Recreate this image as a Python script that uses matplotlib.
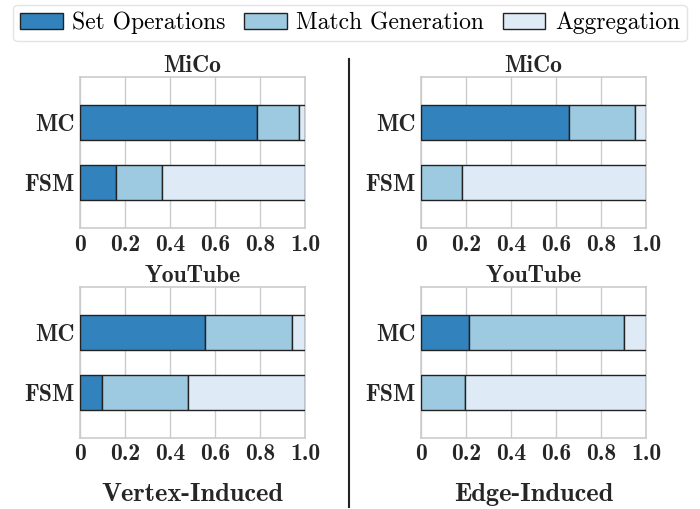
import numpy as np
import matplotlib
matplotlib.use("Agg")
import matplotlib.pyplot as plt
from matplotlib.lines import Line2D
from matplotlib.patches import Patch

# fractions of runtime, rows are [FSM, MC] (FSM drawn at the bottom)
workloads = ["FSM", "MC"]
components = ["Set Operations", "Match Generation", "Aggregation"]
colors = ["#3182bd", "#9ecae1", "#deebf7"]

vertex_mico_set = [0.16, 0.788]
vertex_mico_match = [0.206, 0.185]
vertex_youtube_set = [0.096, 0.556]
vertex_youtube_match = [0.383, 0.388]

edge_mico_set = [0.0, 0.659]
edge_mico_match = [0.181, 0.291]
edge_youtube_set = [0.0, 0.212]
edge_youtube_match = [0.194, 0.692]

panels = [
    ("MiCo", vertex_mico_set, vertex_mico_match, [0.1143, 0.5515, 0.3214, 0.2978]),
    ("YouTube", vertex_youtube_set, vertex_youtube_match, [0.1143, 0.1401, 0.3214, 0.2955]),
    ("MiCo", edge_mico_set, edge_mico_match, [0.6014, 0.5515, 0.3214, 0.2978]),
    ("YouTube", edge_youtube_set, edge_youtube_match, [0.6014, 0.1401, 0.3214, 0.2955]),
]

bold = "cmb10"
plt.rcParams["axes.unicode_minus"] = False

fig = plt.figure(figsize=(7, 5.09), dpi=100)

for title, set_ops, match, rect in panels:
    ax = fig.add_axes(rect)
    set_ops = np.array(set_ops)
    match = np.array(match)
    agg = 1.0 - set_ops - match
    y = np.arange(len(workloads))
    left = np.zeros(len(workloads))
    for vals, c in zip([set_ops, match, agg], colors):
        ax.barh(y, vals, left=left, height=0.58, color=c,
                edgecolor="#222222", linewidth=1.0, zorder=3)
        left += vals
    ax.set_xlim(0, 1.0)
    ax.set_ylim(-0.75, 1.75)
    ax.set_xticks([0, 0.2, 0.4, 0.6, 0.8, 1.0])
    ax.set_xticklabels(["0", "0.2", "0.4", "0.6", "0.8", "1.0"], family=bold, fontsize=17)
    ax.set_yticks(y)
    ax.set_yticklabels(workloads, family=bold, fontsize=17)
    ax.tick_params(length=0, pad=4, colors="#262626")
    ax.grid(axis="x", color="#cccccc", linewidth=1.0, zorder=0)
    for s in ax.spines.values():
        s.set_color("#cccccc")
        s.set_linewidth(1.2)
    ax.set_title(title, family=bold, fontsize=17, pad=0, color="#262626")

handles = [Patch(facecolor=c, edgecolor="#222222", linewidth=1.0) for c in colors]
leg = fig.legend(handles, components, loc="upper center", bbox_to_anchor=(0.5, 1.0),
                 ncol=3, prop={"family": "cmr10", "size": 17}, frameon=True,
                 handlelength=1.8, handleheight=0.65, handletextpad=0.4,
                 columnspacing=0.8, borderpad=0.3, borderaxespad=0.2, fancybox=True)
leg.get_frame().set_edgecolor("#dddddd")
leg.get_frame().set_linewidth(1.0)

fig.add_artist(Line2D([0.498, 0.498], [0.004, 0.884], color="#222222", linewidth=1.5))

fig.text(0.275, 0.028, "Vertex-Induced", family=bold, fontsize=19,
         ha="center", va="center", color="#262626")
fig.text(0.762, 0.028, "Edge-Induced", family=bold, fontsize=19,
         ha="center", va="center", color="#262626")

fig.savefig("out.png", dpi=100)
